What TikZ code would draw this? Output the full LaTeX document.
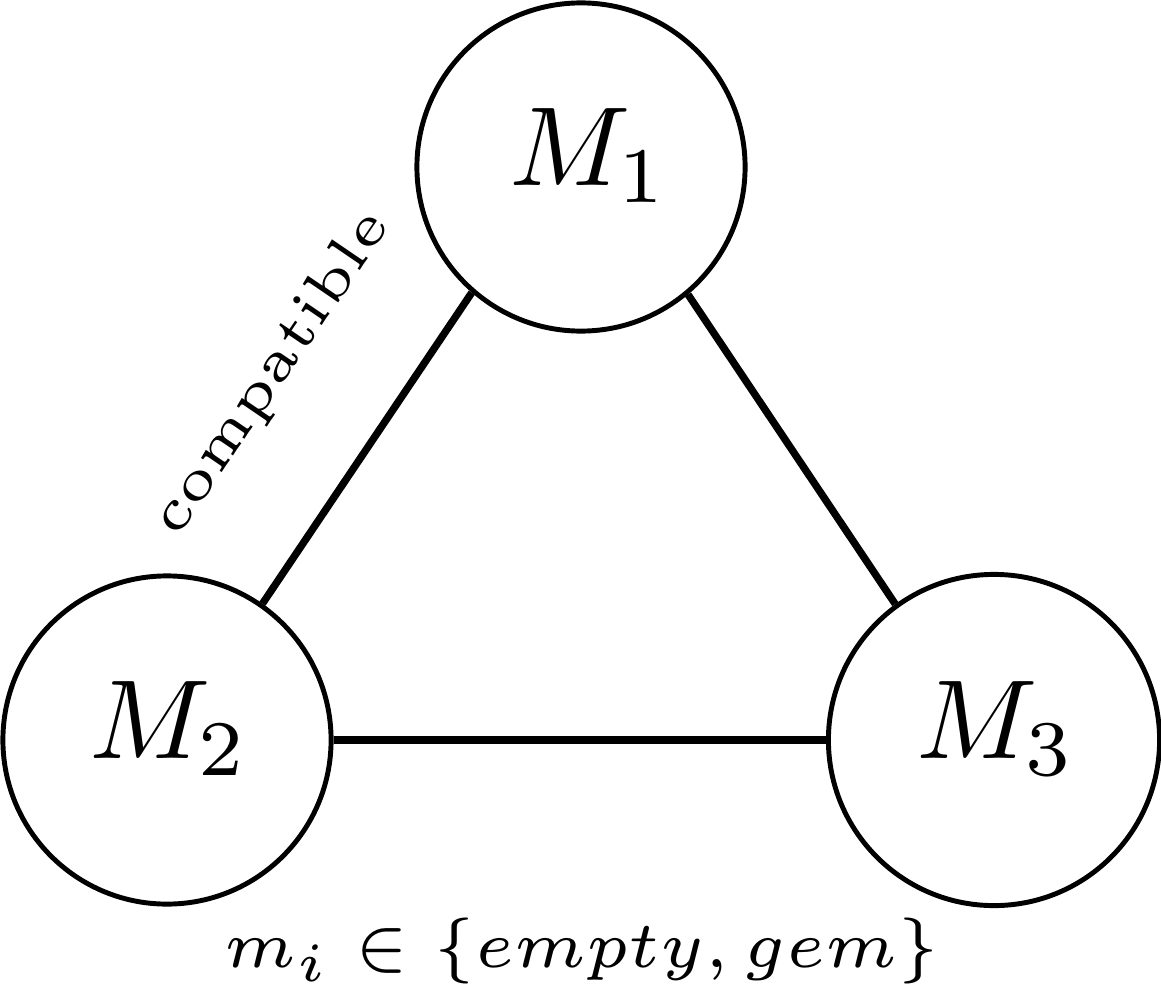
\documentclass[tikz,border=0pt]{standalone}
\usepackage{graphicx}
\begin{document}
\begin{tikzpicture}[x=0.01cm,y=-0.01cm,
  state/.style={draw,circle,line width=1.4pt,minimum size=3.28cm,inner sep=0pt,
    text depth=0.40cm},
  link/.style={line width=2.1pt}]
\useasboundingbox (0,0) rectangle (1161,985);
\node[state] (M1) at (581,167) {\hspace*{0.16cm}\scalebox{3.2}{$M_1$}};
\node[state] (M2) at (167,740) {\hspace*{0.05cm}\scalebox{3.2}{$M_2$}};
\node[state,minimum size=3.31cm] (M3) at (994,740) {\hspace*{0.05cm}\scalebox{3.2}{$M_3$}};
\draw[link] (M1.229) -- (M2.55);
\draw[link] (M1.-50) -- (M3.126);
\draw[link] (M2.-0.7) -- (M3.180);
\node[rotate=55.7,inner sep=0pt] (lab) at (272,374) {\scalebox{3.3}{\tiny compatible}};
\node[inner sep=0pt] (dom) at (582,951)
  {\scalebox{3.13}{\fontsize{6}{7}\selectfont $m_i \in \{empty, gem\}$}};
\end{tikzpicture}
\end{document}
